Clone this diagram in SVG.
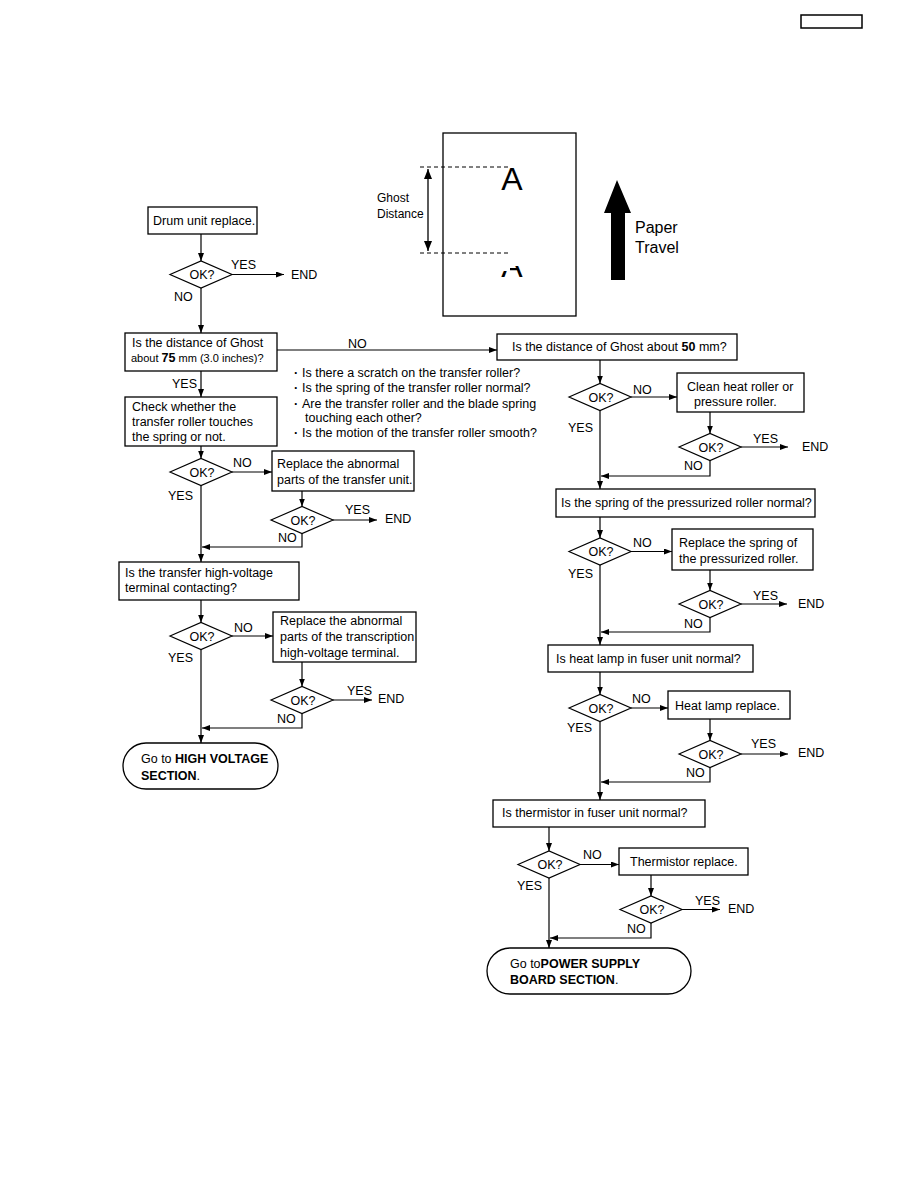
<svg xmlns="http://www.w3.org/2000/svg" width="918" height="1188" viewBox="0 0 918 1188">
<style>
text{font-family:"Liberation Sans",Arial,sans-serif;font-size:12.5px;fill:#000}
.b{font-weight:bold}
.s{font-size:11px}
.box{fill:#fff;stroke:#000;stroke-width:1.3}
.dia{fill:#fff;stroke:#000;stroke-width:1.2}
.ln{fill:none;stroke:#000;stroke-width:1.2}
.ar{fill:none;stroke:#000;stroke-width:1.2;marker-end:url(#ah)}
.dash{stroke:#000;stroke-width:1;stroke-dasharray:4 3}
</style>
<defs>
<marker id="ah" markerUnits="userSpaceOnUse" markerWidth="8" markerHeight="6" refX="8" refY="3" orient="auto"><path d="M0,0 L8,3 L0,6 z" fill="#000"/></marker>
<marker id="ah2" markerUnits="userSpaceOnUse" markerWidth="10" markerHeight="8" refX="10" refY="4" orient="auto-start-reverse"><path d="M0,0 L10,4 L0,8 z" fill="#000"/></marker>
<clipPath id="ghostclip"><rect x="510" y="266" width="25" height="14"/><rect x="495" y="271" width="12" height="9"/></clipPath>
</defs>

<rect x="801" y="15" width="61" height="13" fill="#fff" stroke="#000" stroke-width="1.5"/>

<g id="ghost-figure">
<rect x="443" y="133" width="133" height="183" fill="#fff" stroke="#000" stroke-width="1.3"/>
<line class="dash" x1="420" y1="167" x2="510" y2="167"/>
<line class="dash" x1="420" y1="253" x2="510" y2="253"/>
<line x1="428" y1="169" x2="428" y2="251" stroke="#000" stroke-width="1.3" marker-start="url(#ah2)" marker-end="url(#ah2)"/>
<text x="512" y="190" text-anchor="middle" style="font-size:32px">A</text>
<text x="512" y="277" text-anchor="middle" style="font-size:32px" clip-path="url(#ghostclip)">A</text>
<text x="377" y="202" style="font-size:12px">Ghost</text>
<text x="377" y="218" style="font-size:12px">Distance</text>
<polygon points="617,180 631,213 625,213 625,280 611,280 611,213 604,213" fill="#000"/>
<text x="635" y="233" style="font-size:16px">Paper</text>
<text x="635" y="253" style="font-size:16px">Travel</text>
</g>

<g id="connectors">
<line class="ar" x1="201" y1="234" x2="201" y2="261"/>
<line class="ar" x1="232" y1="274.5" x2="284" y2="274.5"/>
<line class="ar" x1="201" y1="288" x2="201" y2="333"/>
<line class="ar" x1="277" y1="350" x2="497" y2="350"/>
<line class="ar" x1="201" y1="371" x2="201" y2="397"/>
<line class="ar" x1="201" y1="446" x2="201" y2="458.5"/>
<line class="ar" x1="232" y1="472" x2="272" y2="472"/>
<line class="ar" x1="302" y1="491" x2="302" y2="506.5"/>
<line class="ar" x1="333" y1="520" x2="377" y2="520"/>
<polyline class="ar" points="302,533.5 302,547 202,547"/>
<line class="ar" x1="201" y1="485.5" x2="201" y2="562"/>
<line class="ar" x1="201" y1="600" x2="201" y2="622.5"/>
<line class="ar" x1="232" y1="636" x2="273" y2="636"/>
<line class="ar" x1="302" y1="662" x2="302" y2="686.5"/>
<line class="ar" x1="333" y1="700" x2="372" y2="700"/>
<polyline class="ar" points="302,713.5 302,728 202,728"/>
<line class="ar" x1="201" y1="649.5" x2="201" y2="743"/>

<line class="ar" x1="600" y1="360" x2="600" y2="383.5"/>
<line class="ar" x1="631" y1="397" x2="677" y2="397"/>
<line class="ar" x1="710" y1="412" x2="710" y2="433.5"/>
<line class="ar" x1="741" y1="447" x2="788" y2="447"/>
<polyline class="ar" points="710,460.5 710,476 601,476"/>
<line class="ar" x1="600" y1="410.5" x2="600" y2="489"/>
<line class="ar" x1="600" y1="517" x2="600" y2="538"/>
<line class="ar" x1="631" y1="551.5" x2="672" y2="551.5"/>
<line class="ar" x1="710" y1="570" x2="710" y2="590.5"/>
<line class="ar" x1="741" y1="604" x2="787" y2="604"/>
<polyline class="ar" points="710,617.5 710,632 601,632"/>
<line class="ar" x1="600" y1="565" x2="600" y2="645"/>
<line class="ar" x1="600" y1="672" x2="600" y2="694.5"/>
<line class="ar" x1="631" y1="708" x2="668" y2="708"/>
<line class="ar" x1="710" y1="719" x2="710" y2="740.5"/>
<line class="ar" x1="741" y1="754" x2="788" y2="754"/>
<polyline class="ar" points="710,767.5 710,782 601,782"/>
<line class="ar" x1="600" y1="721.5" x2="600" y2="800"/>
<line class="ar" x1="549" y1="827" x2="549" y2="851"/>
<line class="ar" x1="580" y1="864.5" x2="619" y2="864.5"/>
<line class="ar" x1="651" y1="875" x2="651" y2="896"/>
<line class="ar" x1="682" y1="909.5" x2="720" y2="909.5"/>
<polyline class="ar" points="651,923 651,938 550,938"/>
<line class="ar" x1="549" y1="878" x2="549" y2="948"/>
</g>

<g id="labels">
<text x="231" y="269">YES</text><text x="291" y="279">END</text><text x="174" y="301">NO</text>
<text x="348" y="348">NO</text>
<text x="172" y="388">YES</text>
<text x="233" y="467">NO</text><text x="168" y="500">YES</text>
<text x="345" y="514">YES</text><text x="385" y="523">END</text><text x="278" y="542">NO</text>
<text x="234" y="632">NO</text><text x="168" y="662">YES</text>
<text x="347" y="695">YES</text><text x="378" y="703">END</text><text x="277" y="723">NO</text>

<text x="633" y="394">NO</text><text x="568" y="432">YES</text>
<text x="753" y="443">YES</text><text x="802" y="451">END</text><text x="684" y="470">NO</text>
<text x="633" y="547">NO</text><text x="568" y="578">YES</text>
<text x="753" y="600">YES</text><text x="798" y="608">END</text><text x="684" y="628">NO</text>
<text x="632" y="703">NO</text><text x="567" y="732">YES</text>
<text x="751" y="748">YES</text><text x="798" y="757">END</text><text x="686" y="777">NO</text>
<text x="583" y="859">NO</text><text x="517" y="890">YES</text>
<text x="695" y="905">YES</text><text x="728" y="913">END</text><text x="627" y="933">NO</text>
</g>

<g id="checklist">
<text x="294" y="377" class="b">·</text><text x="302" y="377">Is there a scratch on the transfer roller?</text>
<text x="294" y="392" class="b">·</text><text x="302" y="392">Is the spring of the transfer roller normal?</text>
<text x="294" y="408" class="b">·</text><text x="302" y="408">Are the transfer roller and the blade spring</text>
<text x="305" y="422">touching each other?</text>
<text x="294" y="437" class="b">·</text><text x="302" y="437">Is the motion of the transfer roller smooth?</text>
</g>

<g id="n-drum"><rect class="box" x="148" y="207" width="109" height="27"/><text x="153" y="225">Drum unit replace.</text></g>
<g id="d-1"><polygon class="dia" points="170,274.5 201,261 232,274.5 201,288"/><text x="202" y="279" text-anchor="middle">OK?</text></g>
<g id="n-ghost75"><rect class="box" x="125" y="333" width="152" height="38"/><text x="132" y="347">Is the distance of Ghost</text><text x="131" y="362" class="s">about <tspan class="b" style="font-size:12.5px">75</tspan> mm (3.0 inches)?</text></g>
<g id="n-check"><rect class="box" x="125" y="397" width="152" height="49"/><text x="132" y="411">Check whether the</text><text x="132" y="426">transfer roller touches</text><text x="132" y="441">the spring or not.</text></g>
<g id="d-2"><polygon class="dia" points="170,472 201,458.5 232,472 201,485.5"/><text x="202" y="476.5" text-anchor="middle">OK?</text></g>
<g id="n-repl-transfer"><rect class="box" x="272" y="451" width="142" height="40"/><text x="277" y="468">Replace the abnormal</text><text x="277" y="484">parts of the transfer unit.</text></g>
<g id="d-2a"><polygon class="dia" points="271,520 302,506.5 333,520 302,533.5"/><text x="303" y="524.5" text-anchor="middle">OK?</text></g>
<g id="n-hv"><rect class="box" x="119" y="562" width="180" height="38"/><text x="125" y="577">Is the transfer high-voltage</text><text x="125" y="592">terminal contacting?</text></g>
<g id="d-3"><polygon class="dia" points="170,636 201,622.5 232,636 201,649.5"/><text x="202" y="640.5" text-anchor="middle">OK?</text></g>
<g id="n-repl-hv"><rect class="box" x="273" y="612" width="143" height="50"/><text x="280" y="625">Replace the abnormal</text><text x="280" y="641">parts of the transcription</text><text x="280" y="657">high-voltage terminal.</text></g>
<g id="d-3a"><polygon class="dia" points="271,700 302,686.5 333,700 302,713.5"/><text x="303" y="704.5" text-anchor="middle">OK?</text></g>
<g id="t-hv"><rect class="box" x="123" y="743" width="155" height="46" rx="23" ry="23"/><text x="141" y="763">Go to <tspan class="b">HIGH VOLTAGE</tspan></text><text x="141" y="780"><tspan class="b">SECTION</tspan>.</text></g>

<g id="n-ghost50"><rect class="box" x="497" y="334" width="240" height="26"/><text x="512" y="351">Is the distance of Ghost about <tspan class="b">50</tspan> mm?</text></g>
<g id="d-r1"><polygon class="dia" points="569,397 600,383.5 631,397 600,410.5"/><text x="601" y="401.5" text-anchor="middle">OK?</text></g>
<g id="n-clean"><rect class="box" x="677" y="373" width="127" height="39"/><text x="687" y="391">Clean heat roller or</text><text x="694" y="406">pressure roller.</text></g>
<g id="d-r1a"><polygon class="dia" points="679,447 710,433.5 741,447 710,460.5"/><text x="711" y="451.5" text-anchor="middle">OK?</text></g>
<g id="n-spring"><rect class="box" x="556" y="489" width="259" height="28"/><text x="561" y="507">Is the spring of the pressurized roller normal?</text></g>
<g id="d-r2"><polygon class="dia" points="569,551.5 600,538 631,551.5 600,565"/><text x="601" y="556" text-anchor="middle">OK?</text></g>
<g id="n-repl-spring"><rect class="box" x="672" y="529" width="141" height="41"/><text x="679" y="547">Replace the spring of</text><text x="679" y="563">the pressurized roller.</text></g>
<g id="d-r2a"><polygon class="dia" points="679,604 710,590.5 741,604 710,617.5"/><text x="711" y="608.5" text-anchor="middle">OK?</text></g>
<g id="n-lamp"><rect class="box" x="548" y="645" width="205" height="27"/><text x="556" y="663">Is heat lamp in fuser unit normal?</text></g>
<g id="d-r3"><polygon class="dia" points="569,708 600,694.5 631,708 600,721.5"/><text x="601" y="712.5" text-anchor="middle">OK?</text></g>
<g id="n-lamp-repl"><rect class="box" x="668" y="691" width="122" height="28"/><text x="675" y="710">Heat lamp replace.</text></g>
<g id="d-r3a"><polygon class="dia" points="679,754 710,740.5 741,754 710,767.5"/><text x="711" y="758.5" text-anchor="middle">OK?</text></g>
<g id="n-therm"><rect class="box" x="493" y="800" width="212" height="27"/><text x="502" y="817">Is thermistor in fuser unit normal?</text></g>
<g id="d-r4"><polygon class="dia" points="518,864.5 549,851 580,864.5 549,878"/><text x="550" y="869" text-anchor="middle">OK?</text></g>
<g id="n-therm-repl"><rect class="box" x="619" y="848" width="129" height="27"/><text x="630" y="866">Thermistor replace.</text></g>
<g id="d-r4a"><polygon class="dia" points="620,909.5 651,896 682,909.5 651,923"/><text x="652" y="914" text-anchor="middle">OK?</text></g>
<g id="t-psu"><rect class="box" x="487" y="948" width="204" height="46" rx="23" ry="23"/><text x="510" y="968">Go to<tspan class="b">POWER SUPPLY</tspan></text><text x="510" y="984"><tspan class="b">BOARD SECTION</tspan>.</text></g>
</svg>
